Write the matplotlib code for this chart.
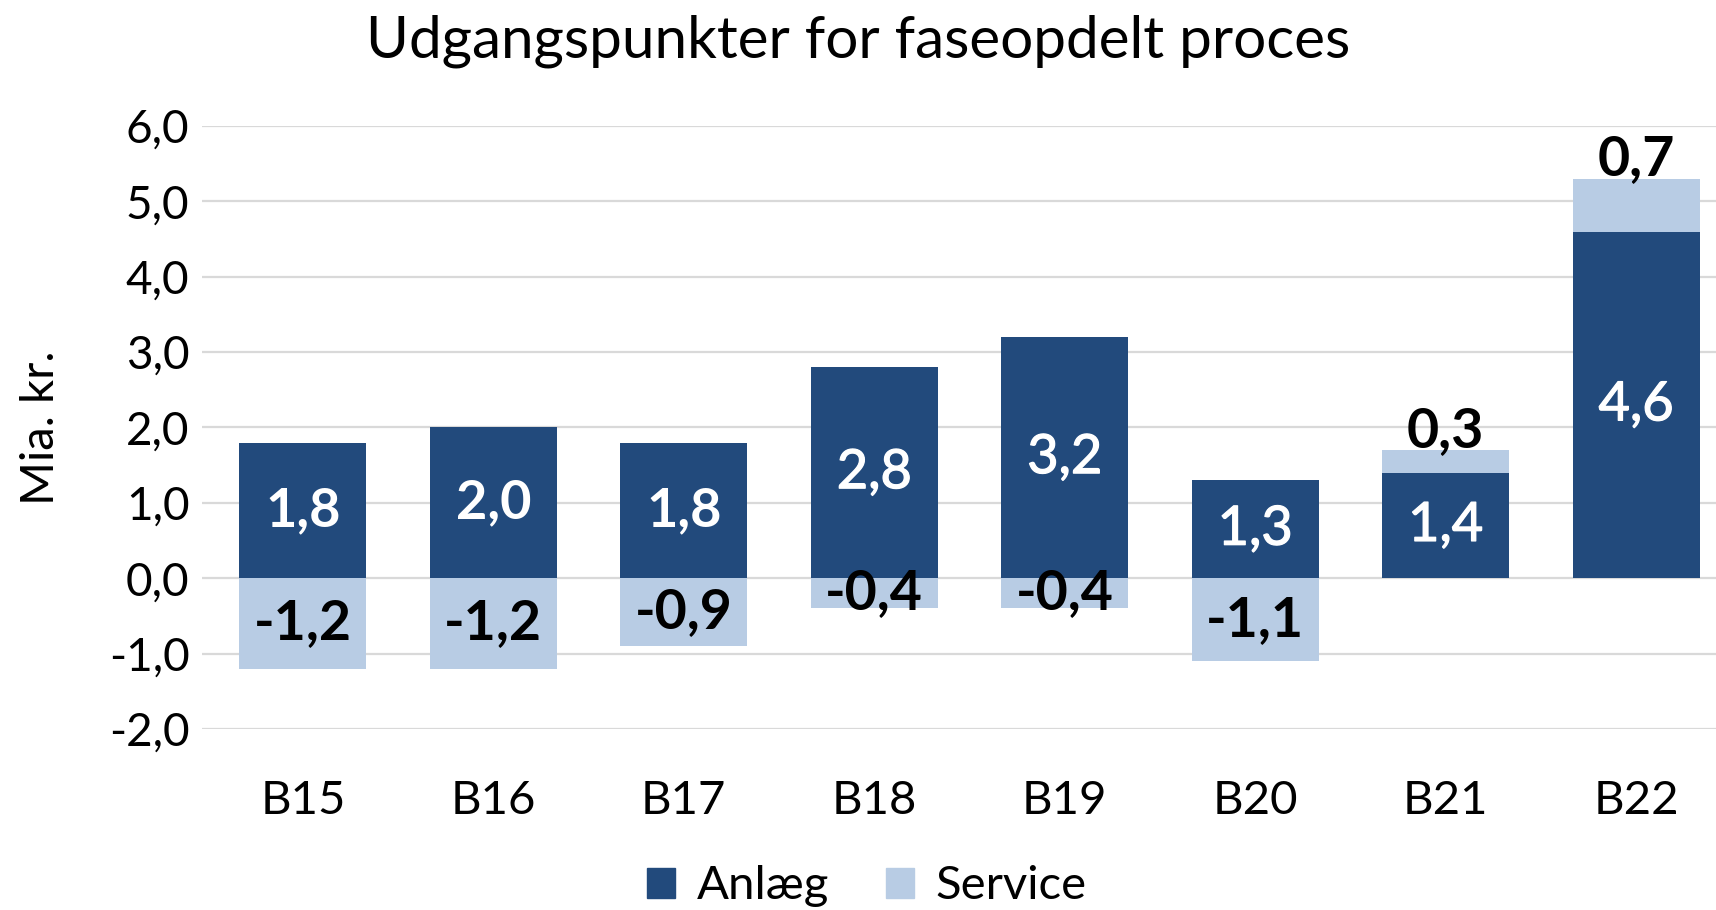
import numpy as np
import matplotlib
matplotlib.use("Agg")
from matplotlib import pyplot as plt
from matplotlib import patheffects as pe
from matplotlib.patches import Patch

plt.rcParams["font.family"] = ["Lato", "DejaVu Sans"]

# data
categories = ["B15", "B16", "B17", "B18", "B19", "B20", "B21", "B22"]
anlaeg = [1.8, 2.0, 1.8, 2.8, 3.2, 1.3, 1.4, 4.6]
service = [-1.2, -1.2, -0.9, -0.4, -0.4, -1.1, 0.3, 0.7]
yticks = [-2, -1, 0, 1, 2, 3, 4, 5, 6]

dark = "#224A7C"
light = "#B8CCE4"


def fmt(v):
    return f"{v:.1f}".replace(".", ",")


fig = plt.figure(figsize=(17.16, 9.10), dpi=100)
ax = fig.add_axes([0.1177, 0.199, 1 - 0.1177, 0.8615 - 0.199])

x = np.arange(len(categories))
w = 0.667
anl = np.array(anlaeg)
srv = np.array(service)
# service stacks on top of anlaeg when positive, below zero when negative
srv_bottom = np.where(srv > 0, anl, 0)

ax.bar(x, anl, w, color=dark, zorder=2)
ax.bar(x, srv, w, bottom=srv_bottom, color=light, zorder=2)

# value labels (first three are bold, the rest a bit lighter)
semibold = [pe.withStroke(linewidth=0.9, foreground="white")]
for i, (a, s) in enumerate(zip(anl, srv)):
    if i < 3:
        ax.text(x[i], a / 2, fmt(a), ha="center", va="center",
                color="white", fontsize=39, fontweight="bold", zorder=3)
    else:
        ax.text(x[i], a / 2, fmt(a), ha="center", va="center",
                color="white", fontsize=39, zorder=3, path_effects=semibold)
    if s < 0:
        ax.text(x[i], s / 2, fmt(s), ha="center", va="center",
                color="black", fontsize=40, fontweight="bold", zorder=3)
    else:
        ax.annotate(fmt(s), (x[i], a + s), xytext=(0, 14),
                    textcoords="offset points", ha="center", va="center",
                    color="black", fontsize=40, fontweight="bold", zorder=3)

ax.set_xlim(-0.53, 7.42)
ax.set_ylim(-2, 6)
ax.set_yticks(yticks)
ax.set_yticklabels([fmt(v) for v in yticks])
ax.set_xticks(x)
ax.set_xticklabels(categories)
ax.tick_params(axis="y", length=0, labelsize=33, pad=9)
ax.tick_params(axis="x", length=0, labelsize=34, pad=37)
ax.grid(axis="y", color="#D9D9D9", linewidth=1.6, zorder=0)
for sp in ax.spines.values():
    sp.set_visible(False)

ax.set_ylabel("Mia. kr.", fontsize=34, labelpad=34)
fig.text(0.5, 0.955, "Udgangspunkter for faseopdelt proces",
         ha="center", va="center", fontsize=42)

handles = [Patch(color=dark, label="Anlæg"), Patch(color=light, label="Service")]
fig.legend(handles=handles, loc="center", bbox_to_anchor=(0.505, 0.026),
           ncol=2, frameon=False, fontsize=34, handlelength=0.6,
           handleheight=0.6, handletextpad=0.45, columnspacing=1.2)

fig.savefig("out.png", dpi=100)
